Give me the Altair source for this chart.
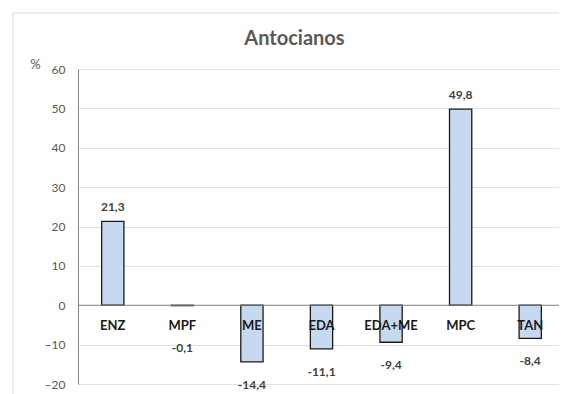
import altair as alt
import pandas as pd

categories = ["ENZ", "MPF", "ME", "EDA", "EDA+ME", "MPC", "TAN"]
values = [21.3, -0.1, -14.4, -11.1, -9.4, 49.8, -8.4]
y_ticks = [-20, -10, 0, 10, 20, 30, 40, 50, 60]

df = pd.DataFrame({"cat": categories, "val": values})
df["label"] = [f"{v:.1f}".replace(".", ",") for v in values]

W, H = 481, 315
FONT = "Lato"

xenc = alt.X("cat:N", sort=categories, axis=None,
             scale=alt.Scale(paddingInner=0.68, paddingOuter=0.34, range=[0, 487]))
yscale = alt.Scale(domain=[-20, 60], nice=False, zero=True)
yaxis = alt.Axis(values=y_ticks, tickCount=9, labelOverlap=False, title="%", titleAngle=0,
                 titleX=-43, titleY=-5, titleAlign="center", titleBaseline="middle",
                 titleFont=FONT, titleFontSize=13, titleFontWeight="normal",
                 titleColor="#595959", grid=True, gridColor="#e0e0e0", ticks=False,
                 labelPadding=13, domainColor="#868686", labelColor="#595959",
                 labelFontSize=12, labelFont=FONT)

frame = alt.Data(values=[{}])
border_top = alt.Chart(frame).mark_rule(color="#d9d9d9", strokeWidth=1).encode(
    x=alt.value(-65), x2=alt.value(W + 20), y=alt.value(-56)
)
border_left = alt.Chart(frame).mark_rule(color="#d9d9d9", strokeWidth=1).encode(
    x=alt.value(-65), y=alt.value(-56), y2=alt.value(H + 20)
)

bars = alt.Chart().mark_bar(fill="#c6d9f1", stroke="#1a1a1a", strokeWidth=1.3).encode(
    x=xenc,
    y=alt.Y("val:Q", scale=yscale, axis=yaxis),
)

zero = alt.Chart(frame).mark_rule(color="#868686", strokeWidth=1.2).encode(
    y=alt.datum(0, scale=yscale, axis=yaxis)
)

pos = alt.Chart().transform_filter("datum.val > 0").mark_text(
    font=FONT, fontSize=12, fontWeight="bold", color="#404040", baseline="middle", dy=-14
).encode(x=xenc, y=alt.Y("val:Q", scale=yscale, axis=yaxis), text="label:N")

neg = alt.Chart().transform_filter("datum.val < 0").transform_calculate(
    ly="min(datum.val, -5)"
).mark_text(
    font=FONT, fontSize=12, fontWeight="bold", color="#404040", baseline="middle", dy=23
).encode(x=xenc, y=alt.Y("ly:Q", scale=yscale, axis=yaxis), text="label:N")

cats = alt.Chart().mark_text(
    font=FONT, fontSize=13, fontWeight="bold", color="#1a1a1a", baseline="middle", dy=21
).encode(x=xenc, y=alt.datum(0, scale=yscale, axis=yaxis), text="cat:N")

chart = alt.layer(border_top, border_left, bars, zero, pos, neg, cats, data=df).properties(
    width=W, height=H,
    title=alt.TitleParams("Antocianos", font=FONT, fontSize=20, fontWeight="bold",
                          color="#595959", anchor="middle", dx=-24, offset=-52,
                          baseline="alphabetic"),
    autosize=alt.AutoSizeParams(type="none"),
    padding={"left": 70, "top": 61, "right": 0, "bottom": 10},
).configure_view(stroke=None)

chart.save("out.html", embed_options={"renderer": "svg", "actions": False})
